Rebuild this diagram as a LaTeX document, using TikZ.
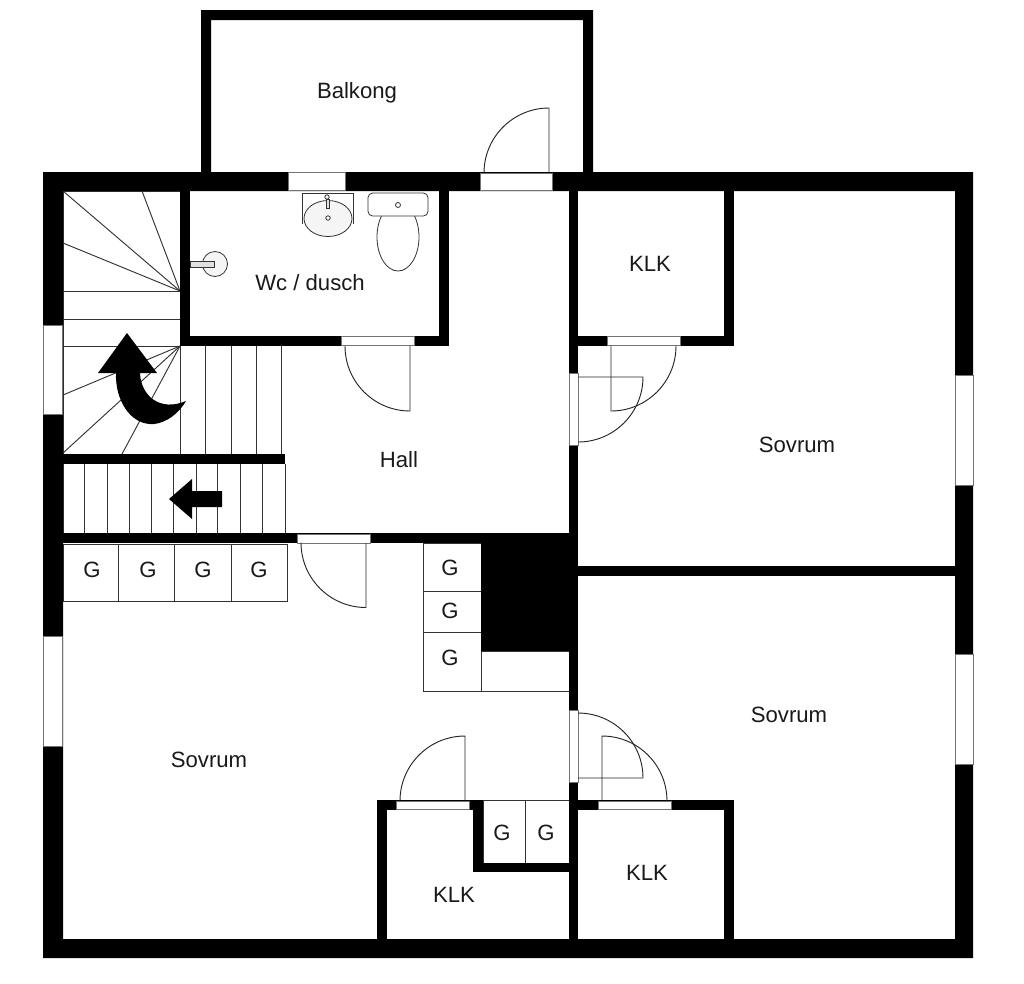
\documentclass[tikz,border=0pt]{standalone}
\usepackage{fontspec}
\setmainfont{Liberation Sans}
\tikzset{
  wall/.style={fill=black,draw=none},
  win/.style={fill=white,draw=black!55,line width=.6pt},
  thin line/.style={draw=black!80,line width=.7pt},
  swing/.style={draw=black!85,line width=.7pt},
  lab/.style={font=\fontsize{16.6}{18}\selectfont,text=black!90,inner sep=0pt,text height=10.5pt,text depth=0pt},
  fixture/.style={draw=black!80,line width=.6pt},
}
\newcommand{\wallrect}[4]{\fill[wall] (#1,#2) rectangle (#3,#4);}
\newcommand{\winrect}[4]{\draw[win] (#1,#2) rectangle (#3,#4);}
\begin{document}
\begin{tikzpicture}[x=.75pt,y=-.75pt]
\useasboundingbox (0,0) rectangle (1024,983);
\fill[white] (0,0) rectangle (1024,983);
% thin stair and closet lines
\draw[thin line] (63,191) -- (63,533) (63,191) -- (180,191);
\foreach \p in {(63,191),(63,243),(142,191),(63,291)} \draw[thin line] (180,291) -- \p;
\draw[thin line] (63,319) -- (180,319) (63,346) -- (180,346);
\foreach \p in {(63,395),(63,453),(122,454)} \draw[thin line] (180,346) -- \p;
\foreach \x in {180,205,231,256,281} \draw[thin line] (\x,346) -- (\x,454);
\foreach \x in {84,107,129,151,173,196,217,240,262,285} \draw[thin line] (\x,464) -- (\x,533);
\draw[thin line] (63,544) rectangle (287,601);
\foreach \x in {118,174.5,231} \draw[thin line] (\x,544) -- (\x,601);
\draw[thin line] (423,543) rectangle (481,691);
\draw[thin line] (423,591) -- (481,591) (423,632) -- (481,632);
\draw[thin line] (481,651) rectangle (569,691);
\draw[thin line] (483,800.5) rectangle (569,863);
\draw[thin line] (525,801) -- (525,863);
% walls
\fill[wall,even odd rule] (43,172) rectangle (973,958) (63,191) rectangle (955,939);
\fill[wall,even odd rule] (201,10) rectangle (593,172) (211,20) rectangle (583,173);
\wallrect{569}{191}{578}{939}
\wallrect{180}{191}{190}{346}
\wallrect{180}{336}{449}{346}
\wallrect{439}{191}{449}{346}
\wallrect{724}{191}{734}{346}
\wallrect{578}{336}{734}{346}
\wallrect{63}{454}{285}{464}
\wallrect{63}{533}{569}{543}
\wallrect{481}{543}{569}{651}
\wallrect{578}{566}{955}{576}
\wallrect{377}{800}{483}{810}
\wallrect{377}{800}{387}{939}
\wallrect{473}{800}{483}{872}
\wallrect{473}{863}{569}{872}
\wallrect{578}{800}{734}{810}
\wallrect{724}{800}{734}{939}
% windows and door frames
\winrect{288}{172.5}{345}{190.5}
\winrect{480}{173}{552}{190.5}
\winrect{43}{325}{62}{414}
\winrect{43}{636}{62}{746}
\winrect{955.5}{375}{973}{485}
\winrect{955.5}{654}{973}{764}
\winrect{569}{373}{578}{445}
\winrect{569}{710}{578}{782}
\winrect{341}{336.5}{414}{345}
\winrect{607}{336.5}{680}{345}
\winrect{297}{534.5}{370}{543}
\winrect{396}{801}{469}{809.5}
\winrect{598}{801}{671}{809.5}
% door swings
\draw[swing] (549,172) -- (549,108) arc[start angle=270,end angle=180,radius=65];
\draw[swing] (410,346) -- (410,411) arc[start angle=90,end angle=180,radius=65];
\draw[swing] (611,346) -- (611,411) arc[start angle=90,end angle=0,radius=65];
\draw[swing] (578,377) -- (643,377) arc[start angle=0,end angle=90,radius=65];
\draw[swing] (366,543) -- (366,607.5) arc[start angle=90,end angle=180,radius=65];
\draw[swing] (465,800) -- (465,736) arc[start angle=270,end angle=180,radius=65];
\draw[swing] (602,800) -- (602,736) arc[start angle=270,end angle=360,radius=65];
\draw[swing] (578,778) -- (643,778) arc[start angle=0,end angle=-90,radius=65];
% shower
\draw[fixture,fill=black!4] (215,264) circle[radius=12.5];
\draw[fixture,fill=black!12] (190,261) rectangle (214.5,267);
% basin
\draw[fixture] (302,224) -- (302,193) -- (353,193) -- (353,224);
\draw[fixture,fill=black!4] (328,218.5) ellipse[x radius=24,y radius=18];
\draw[fixture,fill=black!12] (326,199) rectangle (329,208);
\draw[fixture,fill=white] (327,197) circle[radius=2.2];
\draw[fixture,fill=white] (328,218) circle[radius=2.2];
% toilet
\draw[fixture,fill=white] (398,237) ellipse[x radius=21,y radius=34];
\draw[fixture,fill=white,rounded corners=3.5pt] (368,193) rectangle (428,216);
\draw[fixture,fill=white] (398,205) circle[radius=2.5];
% stair arrows
\fill[black] (127,333) -- (157,373) -- (140,373)
  .. controls (141,396) and (160,412) .. (186,401)
  .. controls (176,418) and (160,425) .. (150,424)
  .. controls (130,423) and (115,400) .. (116,373)
  -- (98,373) -- cycle;
\fill[black] (169,499) -- (192,479) -- (192,491) -- (222,491) -- (222,507) -- (192,507) -- (192,519) -- cycle;
% labels
\node[lab] (balkong) at (357,91) {Balkong};
\node[lab] (wc) at (310,283) {Wc / dusch};
\node[lab] (klk1) at (650,264) {KLK};
\node[lab] (hall) at (399,460) {Hall};
\node[lab] (sov1) at (797,445) {Sovrum};
\node[lab] (sov2) at (789,715) {Sovrum};
\node[lab] (sov3) at (209,760) {Sovrum};
\node[lab] (klk2) at (454,895) {KLK};
\node[lab] (klk3) at (647,873) {KLK};
\node[lab] (g1) at (92,570) {G};
\node[lab] (g2) at (148,570) {G};
\node[lab] (g3) at (203,570) {G};
\node[lab] (g4) at (259,570) {G};
\node[lab] (g5) at (450,568) {G};
\node[lab] (g6) at (450,611) {G};
\node[lab] (g7) at (450,658) {G};
\node[lab] (g8) at (502,833) {G};
\node[lab] (g9) at (546,833) {G};
\end{tikzpicture}
\end{document}
